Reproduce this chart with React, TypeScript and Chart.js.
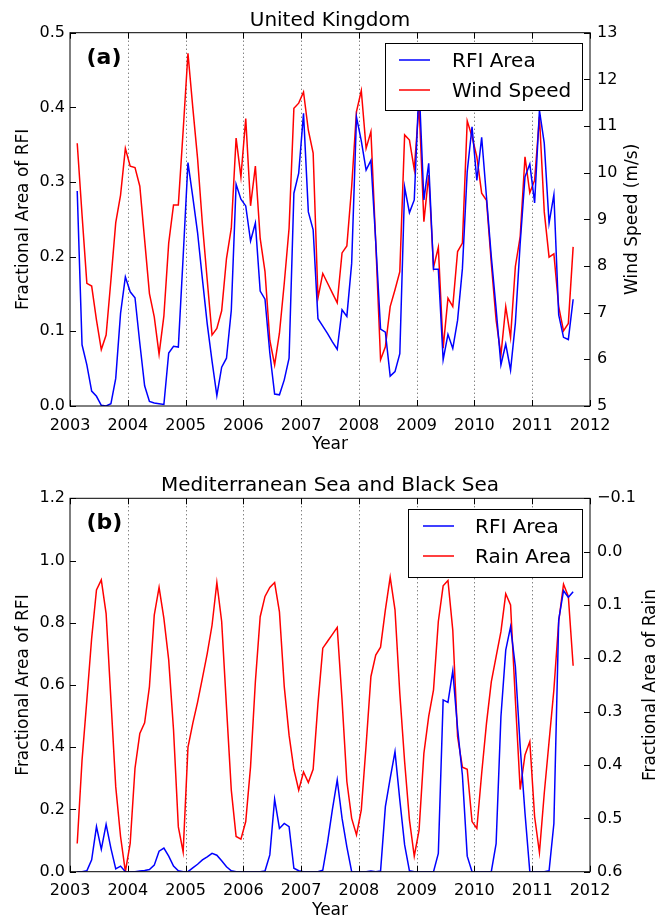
import React, { useEffect, useRef } from "react";
import { Chart, registerables } from "chart.js";

Chart.register(...registerables);

// ---------- DATA (monthly, Feb 2003 – Sep 2011) ----------
const startYear = 2003;
const startMonth = 2; // February

const yearTicks = [2003, 2004, 2005, 2006, 2007, 2008, 2009, 2010, 2011, 2012];

// Panel (a) United Kingdom – fractional area of RFI
const ukRfi = [
  /*2003*/ 0.288, 0.082, 0.055, 0.02, 0.013, 0.001, 0.0, 0.003, 0.037, 0.124, 0.173,
  /*2004*/ 0.153, 0.145, 0.084, 0.027, 0.006, 0.004, 0.003, 0.002, 0.071, 0.08, 0.079, 0.2,
  /*2005*/ 0.326, 0.28, 0.232, 0.17, 0.11, 0.06, 0.014, 0.052, 0.064, 0.128, 0.297, 0.277,
  /*2006*/ 0.268, 0.221, 0.245, 0.154, 0.143, 0.071, 0.016, 0.015, 0.035, 0.064, 0.285, 0.312,
  /*2007*/ 0.392, 0.26, 0.236, 0.117, 0.107, 0.097, 0.086, 0.076, 0.129, 0.12, 0.191, 0.387,
  /*2008*/ 0.355, 0.316, 0.329, 0.22, 0.103, 0.099, 0.04, 0.046, 0.07, 0.293, 0.259, 0.276,
  /*2009*/ 0.43, 0.276, 0.325, 0.183, 0.183, 0.062, 0.096, 0.077, 0.115, 0.184, 0.314, 0.374,
  /*2010*/ 0.302, 0.36, 0.28, 0.2, 0.13, 0.055, 0.083, 0.048, 0.111, 0.218, 0.307, 0.324,
  /*2011*/ 0.272, 0.396, 0.352, 0.245, 0.283, 0.122, 0.092, 0.089, 0.143,
];

// Panel (a) United Kingdom – wind speed (m/s)
const ukWind = [
  /*2003*/ 10.63, 9.1, 7.63, 7.57, 6.84, 6.21, 6.52, 7.7, 8.93, 9.52, 10.52,
  /*2004*/ 10.14, 10.11, 9.71, 8.56, 7.41, 6.91, 6.11, 6.93, 8.49, 9.31, 9.31, 10.9,
  /*2005*/ 12.56, 11.4, 10.3, 8.9, 7.7, 6.52, 6.66, 7.04, 8.16, 8.81, 10.74, 9.91,
  /*2006*/ 11.16, 9.29, 10.14, 8.59, 7.88, 6.41, 5.88, 6.56, 7.63, 8.81, 11.38, 11.49,
  /*2007*/ 11.73, 10.91, 10.42, 7.31, 7.84, 7.63, 7.42, 7.21, 8.28, 8.43, 9.7, 11.31,
  /*2008*/ 11.76, 10.52, 10.88, 8.5, 5.99, 6.27, 7.13, 7.49, 7.88, 10.81, 10.7, 10.07,
  /*2009*/ 11.45, 8.95, 9.95, 7.97, 8.4, 6.24, 7.31, 7.13, 8.31, 8.49, 11.11, 10.77,
  /*2010*/ 10.34, 9.56, 9.41, 8.06, 6.84, 6.09, 7.13, 6.47, 7.99, 8.63, 10.34, 9.57,
  /*2011*/ 9.84, 11.2, 9.16, 8.19, 8.26, 7.13, 6.61, 6.77, 8.41,
];

// Panel (b) Mediterranean Sea and Black Sea – fractional area of RFI
const medRfi = [
  /*2003*/ 0.0, 0.0, 0.003, 0.038, 0.145, 0.072, 0.152, 0.075, 0.009, 0.018, 0.0,
  /*2004*/ 0.0, 0.0, 0.002, 0.004, 0.007, 0.021, 0.066, 0.076, 0.05, 0.018, 0.003, 0.0,
  /*2005*/ 0.0, 0.012, 0.024, 0.038, 0.048, 0.059, 0.053, 0.035, 0.016, 0.003, 0.0, 0.0,
  /*2006*/ 0.0, 0.0, 0.0, 0.0, 0.002, 0.054, 0.233, 0.139, 0.155, 0.145, 0.011, 0.003,
  /*2007*/ 0.0, 0.0, 0.0, 0.0, 0.005, 0.095, 0.2, 0.295, 0.172, 0.08, 0.0, 0.0,
  /*2008*/ 0.0, 0.0, 0.002, 0.0, 0.002, 0.209, 0.3, 0.386, 0.23, 0.086, 0.003, 0.0,
  /*2009*/ 0.0, 0.0, 0.0, 0.0, 0.059, 0.552, 0.544, 0.645, 0.46, 0.31, 0.05, 0.0,
  /*2010*/ 0.0, 0.0, 0.0, 0.0, 0.09, 0.498, 0.712, 0.787, 0.659, 0.402, 0.188, 0.0,
  /*2011*/ 0.0, 0.0, 0.0, 0.003, 0.155, 0.809, 0.903, 0.882, 0.9,
];

// Panel (b) Mediterranean Sea and Black Sea – fractional area of rain (inverted axis)
const medRain = [
  /*2003*/ 0.547, 0.391, 0.278, 0.162, 0.072, 0.053, 0.116, 0.278, 0.441, 0.534, 0.6,
  /*2004*/ 0.547, 0.406, 0.341, 0.321, 0.253, 0.119, 0.067, 0.125, 0.203, 0.334, 0.516, 0.563,
  /*2005*/ 0.367, 0.322, 0.282, 0.237, 0.191, 0.138, 0.058, 0.131, 0.291, 0.447, 0.534, 0.539,
  /*2006*/ 0.506, 0.403, 0.244, 0.122, 0.084, 0.067, 0.058, 0.113, 0.253, 0.344, 0.408, 0.447,
  /*2007*/ 0.413, 0.433, 0.408, 0.285, 0.181, 0.168, 0.155, 0.142, 0.278, 0.431, 0.5, 0.531,
  /*2008*/ 0.484, 0.363, 0.234, 0.194, 0.179, 0.109, 0.048, 0.109, 0.266, 0.394, 0.503, 0.571,
  /*2009*/ 0.522, 0.378, 0.309, 0.259, 0.131, 0.064, 0.054, 0.147, 0.347, 0.404, 0.408, 0.506,
  /*2010*/ 0.519, 0.416, 0.322, 0.244, 0.197, 0.15, 0.079, 0.1, 0.278, 0.446, 0.381, 0.356,
  /*2011*/ 0.497, 0.564, 0.453, 0.356, 0.259, 0.131, 0.061, 0.084, 0.214,
];

// ---------- helpers ----------
const FONT = "'DejaVu Sans', 'Liberation Sans', sans-serif";
const BLUE = "rgb(0,0,255)";
const RED = "rgb(255,0,0)";

function monthPosition(i: number): number {
  const m = startMonth - 1 + i;
  return startYear + Math.floor(m / 12) + ((m % 12) + 0.5) / 12;
}

function toPoints(values: number[]) {
  return values.map((v, i) => ({ x: monthPosition(i), y: v }));
}

function fmt1(v: number): string {
  const r = Math.round(v * 10) / 10;
  if (r < 0) return "\u2212" + Math.abs(r).toFixed(1);
  return (r === 0 ? 0 : r).toFixed(1);
}

const decorPlugin = {
  id: "decor",
  beforeDatasetsDraw(chart: any) {
    const { ctx, chartArea: a, scales } = chart;
    const xs = scales.x;
    ctx.save();
    ctx.strokeStyle = "rgba(0,0,0,0.7)";
    ctx.lineWidth = 1;
    ctx.setLineDash([1, 3]);
    for (const t of xs.ticks) {
      if (t.value <= xs.min || t.value >= xs.max) continue;
      const px = Math.round(xs.getPixelForValue(t.value)) + 0.5;
      ctx.beginPath();
      ctx.moveTo(px, a.top);
      ctx.lineTo(px, a.bottom);
      ctx.stroke();
    }
    ctx.restore();
  },
  afterDatasetsDraw(chart: any, _args: any, opts: any) {
    const { ctx, chartArea: a, scales } = chart;
    ctx.save();
    // frame
    ctx.strokeStyle = "#000";
    ctx.lineWidth = 1;
    ctx.strokeRect(a.left, a.top, a.right - a.left, a.bottom - a.top);
    // inward ticks
    const L = 6;
    ctx.beginPath();
    const xs = scales.x;
    for (const t of xs.ticks) {
      const px = Math.round(xs.getPixelForValue(t.value)) + 0.5;
      ctx.moveTo(px, a.bottom);
      ctx.lineTo(px, a.bottom - L);
      ctx.moveTo(px, a.top);
      ctx.lineTo(px, a.top + L);
    }
    const yl = scales.y;
    for (const t of yl.ticks) {
      const py = Math.round(yl.getPixelForValue(t.value)) + 0.5;
      ctx.moveTo(a.left, py);
      ctx.lineTo(a.left + L, py);
    }
    const yr = scales.y2;
    for (const t of yr.ticks) {
      const py = Math.round(yr.getPixelForValue(t.value)) + 0.5;
      ctx.moveTo(a.right, py);
      ctx.lineTo(a.right - L, py);
    }
    ctx.stroke();

    // legend box (drawn over the lines)
    const lg = opts.legend;
    const bx = a.right - lg.offRight - lg.w;
    const by = a.top + lg.offTop;
    ctx.fillStyle = "#fff";
    ctx.fillRect(bx, by, lg.w, lg.h);
    ctx.strokeStyle = "#000";
    ctx.lineWidth = 1;
    ctx.strokeRect(Math.round(bx) + 0.5, Math.round(by) + 0.5, lg.w, lg.h);
    ctx.font = `20px ${FONT}`;
    ctx.textAlign = "left";
    ctx.textBaseline = "alphabetic";
    chart.data.datasets.forEach((ds: any, i: number) => {
      const ry = by + 17 + i * 30;
      ctx.strokeStyle = ds.borderColor;
      ctx.lineWidth = 1.5;
      ctx.beginPath();
      ctx.moveTo(bx + lg.sample, ry);
      ctx.lineTo(bx + lg.sample + 31, ry);
      ctx.stroke();
      ctx.fillStyle = "#000";
      ctx.fillText(ds.label, bx + 67, ry + 7.3);
    });
    ctx.restore();
  },
  afterDraw(chart: any, _args: any, opts: any) {
    const { ctx, chartArea: a } = chart;
    const cx = (a.left + a.right) / 2;
    const cy = (a.top + a.bottom) / 2;
    ctx.save();
    ctx.fillStyle = "#000";
    ctx.textBaseline = "alphabetic";
    // title
    ctx.font = `20px ${FONT}`;
    ctx.textAlign = "center";
    ctx.fillText(opts.title, cx, a.top - 7);
    // x label
    ctx.font = `17px ${FONT}`;
    ctx.fillText(opts.xLabel, cx, a.bottom + 43);
    // panel letter
    ctx.font = `bold 22px ${FONT}`;
    ctx.textAlign = "left";
    ctx.fillText(opts.panel, a.left + 16.5, a.top + 31);
    // y labels
    ctx.font = `17px ${FONT}`;
    ctx.textAlign = "center";
    const off = 0.37 * 17;
    ctx.save();
    ctx.translate(opts.leftLabelX + off, cy);
    ctx.rotate(-Math.PI / 2);
    ctx.fillText(opts.yLeftLabel, 0, 0);
    ctx.restore();
    ctx.save();
    ctx.translate(opts.rightLabelX + off, cy);
    ctx.rotate(-Math.PI / 2);
    ctx.fillText(opts.yRightLabel, 0, 0);
    ctx.restore();
    ctx.restore();
  },
};

interface PanelSpec {
  title: string;
  panel: string;
  left: { min: number; max: number; step: number; label: string; fmt: (v: number) => string };
  right: { min: number; max: number; step: number; label: string; reverse: boolean; fmt: (v: number) => string };
  series: { label: string; color: string; values: number[]; axis: string }[];
  padTop: number;
  xHeight: number;
  legend: { w: number; h: number; offRight: number; offTop: number; sample: number };
  rightLabelX: number;
}

function buildConfig(p: PanelSpec): any {
  return {
    type: "line",
    data: {
      datasets: p.series.map((s) => ({
        label: s.label,
        data: toPoints(s.values),
        borderColor: s.color,
        backgroundColor: s.color,
        borderWidth: 1.5,
        pointRadius: 0,
        tension: 0,
        fill: false,
        yAxisID: s.axis,
      })),
    },
    options: {
      responsive: false,
      animation: false,
      events: [],
      layout: { padding: { top: p.padTop, left: 0, right: 0, bottom: 0 } },
      plugins: {
        legend: { display: false },
        tooltip: { enabled: false },
        title: { display: false },
        decor: {
          title: p.title,
          panel: p.panel,
          xLabel: "Year",
          yLeftLabel: p.left.label,
          yRightLabel: p.right.label,
          legend: p.legend,
          leftLabelX: 22,
          rightLabelX: p.rightLabelX,
        },
      },
      scales: {
        x: {
          type: "linear",
          min: yearTicks[0],
          max: yearTicks[yearTicks.length - 1],
          afterBuildTicks: (scale: any) => {
            scale.ticks = yearTicks.map((v) => ({ value: v }));
          },
          afterFit: (scale: any) => {
            scale.height = p.xHeight;
          },
          grid: { display: false, drawTicks: false },
          border: { display: false },
          ticks: {
            autoSkip: false,
            maxRotation: 0,
            padding: 10,
            color: "#000",
            font: { family: FONT, size: 16 },
            callback: (v: number) => String(v),
          },
        },
        y: {
          type: "linear",
          position: "left",
          min: p.left.min,
          max: p.left.max,
          afterFit: (scale: any) => {
            scale.width = 70;
          },
          grid: { display: false, drawTicks: false },
          border: { display: false },
          ticks: {
            stepSize: p.left.step,
            padding: 5,
            color: "#000",
            font: { family: FONT, size: 16 },
            callback: (v: number) => p.left.fmt(v),
          },
        },
        y2: {
          type: "linear",
          position: "right",
          min: p.right.min,
          max: p.right.max,
          reverse: p.right.reverse,
          afterFit: (scale: any) => {
            scale.width = 79;
          },
          grid: { display: false, drawTicks: false },
          border: { display: false },
          ticks: {
            stepSize: p.right.step,
            padding: 7,
            color: "#000",
            font: { family: FONT, size: 16 },
            callback: (v: number) => p.right.fmt(v),
          },
        },
      },
    },
    plugins: [decorPlugin],
  };
}

const topSpec: PanelSpec = {
  title: "United Kingdom",
  panel: "(a)",
  left: { min: 0, max: 0.5, step: 0.1, label: "Fractional Area of RFI", fmt: fmt1 },
  right: {
    min: 5,
    max: 13,
    step: 1,
    label: "Wind Speed (m/s)",
    reverse: false,
    fmt: (v: number) => String(Math.round(v)),
  },
  series: [
    { label: "RFI Area", color: BLUE, values: ukRfi, axis: "y" },
    { label: "Wind Speed", color: RED, values: ukWind, axis: "y2" },
  ],
  padTop: 32.7,
  xHeight: 53,
  legend: { w: 197, h: 67, offRight: 8, offTop: 10.3, sample: 14 },
  rightLabelX: 631,
};

const bottomSpec: PanelSpec = {
  title: "Mediterranean Sea and Black Sea",
  panel: "(b)",
  left: { min: 0, max: 1.2, step: 0.2, label: "Fractional Area of RFI", fmt: fmt1 },
  right: {
    min: -0.1,
    max: 0.6,
    step: 0.1,
    label: "Fractional Area of Rain",
    reverse: true,
    fmt: fmt1,
  },
  series: [
    { label: "RFI Area", color: BLUE, values: medRfi, axis: "y" },
    { label: "Rain Area", color: RED, values: medRain, axis: "y2" },
  ],
  padTop: 39.3,
  xHeight: 46.3,
  legend: { w: 174, h: 68, offRight: 8, offTop: 10.7, sample: 15 },
  rightLabelX: 649,
};

export default function App() {
  const topRef = useRef<HTMLCanvasElement | null>(null);
  const botRef = useRef<HTMLCanvasElement | null>(null);

  useEffect(() => {
    const charts: Chart[] = [];
    if (topRef.current) charts.push(new Chart(topRef.current, buildConfig(topSpec)));
    if (botRef.current) charts.push(new Chart(botRef.current, buildConfig(bottomSpec)));
    return () => {
      charts.forEach((c) => c.destroy());
    };
  }, []);

  return (
    <div
      style={{
        position: "absolute",
        left: 0,
        top: 0,
        width: 669,
        height: 918,
        background: "#fff",
      }}
    >
      <canvas ref={topRef} width={669} height={459} style={{ display: "block" }} />
      <canvas ref={botRef} width={669} height={459} style={{ display: "block" }} />
    </div>
  );
}
